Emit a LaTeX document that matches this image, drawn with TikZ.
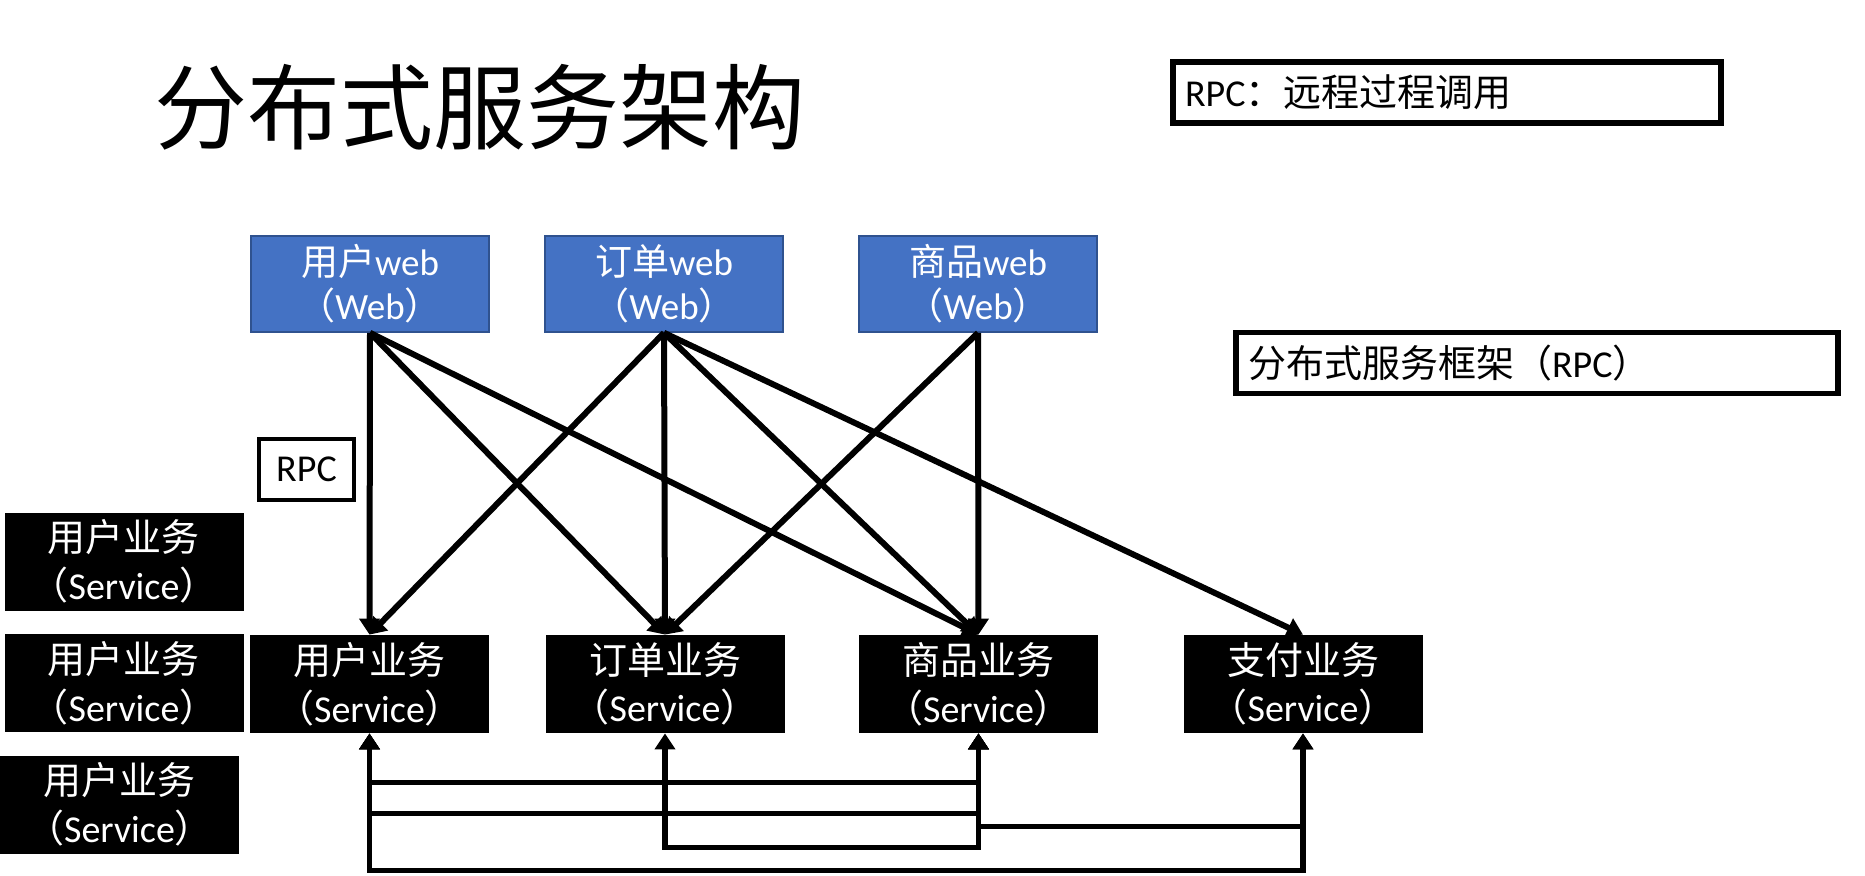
\documentclass[tikz,border=0pt]{standalone}
\usepackage{fontspec}
\setmainfont{Carlito}
\newfontfamily\cjk{Noto Sans CJK SC}
\usepackage{xcolor}
\usepackage{tikz}
\usetikzlibrary{arrows.meta,positioning,calc}
\definecolor{webblue}{HTML}{4472C4}
\definecolor{webline}{HTML}{2F528F}
\begin{document}
\begin{tikzpicture}[x=0.5pt,y=-0.5pt,
    webbox/.style={draw=webline, line width=0.8pt, fill=webblue, text=white, align=center,
        minimum width=119pt, minimum height=48pt, inner sep=0pt,
        font=\fontsize{18.5}{22}\selectfont},
    svcbox/.style={fill=black, text=white, align=center,
        minimum width=119.5pt, minimum height=49pt, inner sep=0pt,
        font=\fontsize{19}{23.8}\selectfont},
    notebox/.style={draw, line width=2.8pt, minimum height=30.5pt, inner sep=0pt,
        font=\fontsize{19}{22}\selectfont},
    link/.style={line width=3pt, -{Triangle[length=8pt,width=10pt]}},
    bus/.style={line width=2.6pt, {Triangle[length=8pt,width=10pt]}-{Triangle[length=8pt,width=10pt]}}]
    \useasboundingbox (0,0) rectangle (1865,875);
    % title and notes
    \node[anchor=west, inner sep=0pt, font=\cjk\fontsize{46.5}{50}\selectfont] (title) at (154,107) {分布式服务架构};
    \node[notebox, minimum width=274pt, text width=262pt] (rpcnote) at (1447,92.5) {RPC{\cjk ：远程过程调用}};
    \node[notebox, minimum width=301pt, text width=289pt] (frame) at (1537,363) {{\cjk 分布式服务框架（}RPC{\cjk ）}};
    \node[notebox, line width=2pt, minimum width=47.5pt] (rpc) at (306.5,469.5) {RPC};
    % web layer
    \node[webbox] (uweb) at (370,284) {{\cjk 用户}web\\{\cjk （}Web{\cjk ）}};
    \node[webbox] (oweb) at (664,284) {{\cjk 订单}web\\{\cjk （}Web{\cjk ）}};
    \node[webbox] (gweb) at (978,284) {{\cjk 商品}web\\{\cjk （}Web{\cjk ）}};
    % service layer
    \node[svcbox] (usvc) at (369.5,684) {{\cjk 用户业务}\\{\cjk （}Service{\cjk ）}};
    \node[svcbox] (osvc) at (665,684) {{\cjk 订单业务}\\{\cjk （}Service{\cjk ）}};
    \node[svcbox] (gsvc) at (978.5,684) {{\cjk 商品业务}\\{\cjk （}Service{\cjk ）}};
    \node[svcbox] (psvc) at (1303,684) {{\cjk 支付业务}\\{\cjk （}Service{\cjk ）}};
    % replicas on the left
    \node[svcbox] (lsvc1) at (124,561.5) {{\cjk 用户业务}\\{\cjk （}Service{\cjk ）}};
    \node[svcbox] (lsvc2) at (124,683) {{\cjk 用户业务}\\{\cjk （}Service{\cjk ）}};
    \node[svcbox] (lsvc3) at (119.5,804.5) {{\cjk 用户业务}\\{\cjk （}Service{\cjk ）}};

    \draw[link] (uweb.south) -- (usvc.north);
    \draw[link] (uweb.south) -- (osvc.north);
    \draw[link] (uweb.south) -- (gsvc.north);
    \draw[link] (oweb.south) -- (usvc.north);
    \draw[link] (oweb.south) -- (osvc.north);
    \draw[link] (oweb.south) -- (gsvc.north);
    \draw[link] (oweb.south) -- (psvc.north);
    \draw[link] (gweb.south) -- (osvc.north);
    \draw[link] (gweb.south) -- (gsvc.north);

    \draw[bus] (usvc.south) -- ++(0,49) -| (gsvc.south);
    \draw[bus] (usvc.south) -- ++(0,80) -| (gsvc.south);
    \draw[bus] (gsvc.south) -- ++(0,93) -| (psvc.south);
    \draw[bus] (osvc.south) -- ++(0,114) -| (gsvc.south);
    \draw[bus] (usvc.south) -- ++(0,137) -| (psvc.south);
\end{tikzpicture}
\end{document}
